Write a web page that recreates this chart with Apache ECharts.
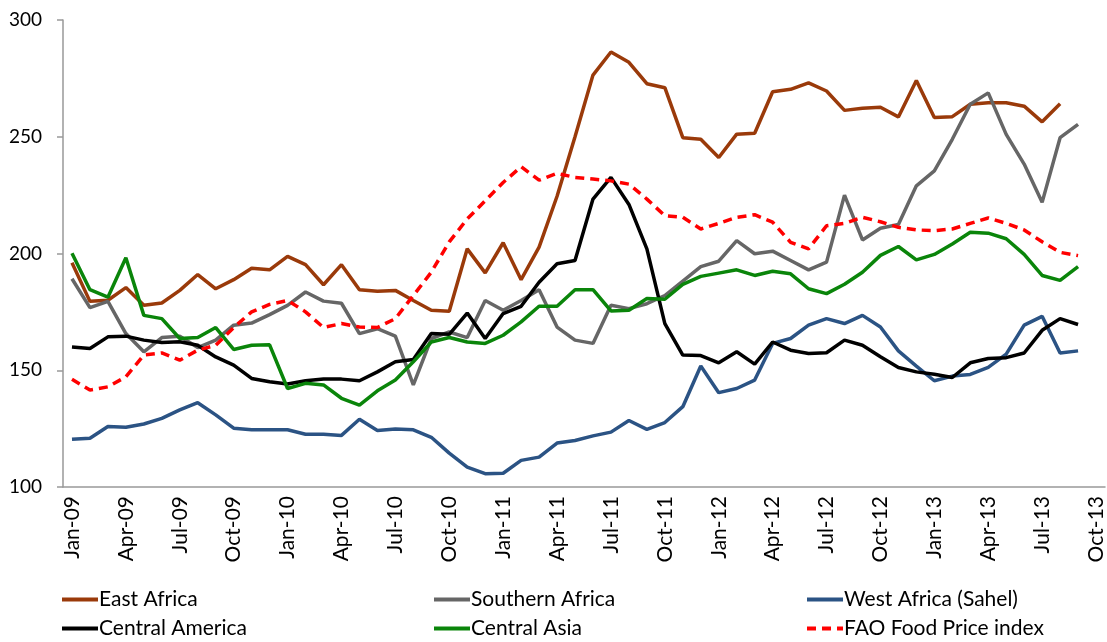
<!DOCTYPE html>
<html>
<head>
<meta charset="utf-8">
<script src="https://cdn.jsdelivr.net/npm/echarts@6/dist/echarts.min.js"></script>
<style>
  html, body { margin: 0; padding: 0; background: #fff; }
  #myChart { width: 1107px; height: 642px; }
</style>
</head>
<body>
<div id="myChart"></div>
<script>
// month labels, Jan-09 .. Oct-13
const months = [
  'Jan-09', 'Feb-09', 'Mar-09', 'Apr-09', 'May-09', 'Jun-09', 'Jul-09', 'Aug-09', 'Sep-09', 'Oct-09', 'Nov-09', 'Dec-09',
  'Jan-10', 'Feb-10', 'Mar-10', 'Apr-10', 'May-10', 'Jun-10', 'Jul-10', 'Aug-10', 'Sep-10', 'Oct-10', 'Nov-10', 'Dec-10',
  'Jan-11', 'Feb-11', 'Mar-11', 'Apr-11', 'May-11', 'Jun-11', 'Jul-11', 'Aug-11', 'Sep-11', 'Oct-11', 'Nov-11', 'Dec-11',
  'Jan-12', 'Feb-12', 'Mar-12', 'Apr-12', 'May-12', 'Jun-12', 'Jul-12', 'Aug-12', 'Sep-12', 'Oct-12', 'Nov-12', 'Dec-12',
  'Jan-13', 'Feb-13', 'Mar-13', 'Apr-13', 'May-13', 'Jun-13', 'Jul-13', 'Aug-13', 'Sep-13', 'Oct-13'
]

const eastAfrica = [
  196, 179.5, 180, 185.4, 177.8, 178.8, 184.2, 191, 184.9, 188.8, 193.7, 193,
  198.8, 195.2, 186.6, 195.2, 184.5, 183.8, 184.2, 179.9, 175.7, 175.3, 202, 191.7,
  204.6, 188.8, 202.7, 224.5, 250, 276.4, 286.3, 281.9, 272.7, 271, 249.6, 248.9,
  241.1, 251.1, 251.5, 269.3, 270.3, 273.1, 269.6, 261.3, 262.2, 262.6, 258.5, 274.1,
  258.2, 258.6, 263.9, 264.6, 264.6, 263.1, 256.4, 264.1, null, null
]
const southernAfrica = [
  189.2, 176.8, 179.5, 165.7, 157.9, 164, 164.6, 159.7, 162.9, 169.3, 170.2, 173.8,
  177.8, 183.5, 179.6, 178.7, 165.7, 167.8, 164.6, 143.7, 163.6, 166.4, 164, 179.9,
  175.7, 179.9, 184.5, 168.5, 162.9, 161.5, 177.8, 176.4, 178.5, 182, 188.2, 194.4,
  196.7, 205.5, 199.9, 201, 197, 193, 196.3, 225, 205.8, 210.8, 212.4, 229,
  235.4, 248.9, 263.9, 268.8, 251, 238.3, 221.9, 249.6, 255.3, null
]
const westAfrica = [
  120.5, 120.9, 125.9, 125.6, 127, 129.4, 133, 136.1, 130.9, 125.2, 124.5, 124.5,
  124.5, 122.6, 122.6, 122.1, 129, 124.2, 124.8, 124.5, 121.3, 114.5, 108.5, 105.7,
  105.9, 111.4, 112.8, 118.8, 119.9, 121.9, 123.5, 128.5, 124.7, 127.6, 134.4, 151.8,
  140.4, 142.2, 145.8, 161.5, 163.6, 169.3, 172.1, 170, 173.5, 168.5, 158.3, 151.8,
  145.5, 147.5, 148.2, 151.2, 156.9, 169.3, 173.1, 157.4, 158.3, null
]
const centralAmerica = [
  160, 159.3, 164.3, 164.6, 162.9, 161.9, 162.2, 160.7, 155.7, 152.2, 146.5, 145.1,
  144.1, 145.5, 146.3, 146.2, 145.5, 149.3, 153.6, 154.6, 165.7, 165.4, 174.5, 163.6,
  174.3, 177.4, 187.7, 195.6, 197, 223.3, 232.6, 221, 202, 170, 156.5, 156.3,
  153.2, 157.9, 152.6, 162.1, 158.6, 157.2, 157.5, 162.9, 160.7, 155.8, 151.2, 149.3,
  148.3, 146.9, 153.2, 155, 155.4, 157.4, 167.1, 172.1, 169.6, null
]
const centralAsia = [
  200.1, 184.5, 181.3, 198.2, 173.5, 172.1, 163.6, 164, 168.3, 158.9, 160.7, 160.9,
  142.2, 144.4, 143.7, 138, 135.1, 141.2, 145.8, 153.6, 162.1, 164, 162.1, 161.5,
  165, 170.7, 177.4, 177.4, 184.5, 184.5, 175.4, 175.7, 180.7, 180.4, 186.8, 190.2,
  191.6, 193, 190.6, 192.4, 191.3, 184.9, 182.8, 186.8, 192, 199.2, 203, 197.3,
  199.6, 204.1, 209.1, 208.7, 206.3, 199.6, 190.6, 188.5, 194.4, null
]
const faoIndex = [
  146.1, 141.5, 142.9, 147.2, 156.5, 157.4, 154.3, 158.6, 160.7, 168.3, 175, 178.2,
  179.9, 175, 168.3, 170, 168.5, 168.3, 172.1, 182, 192, 205, 214.8, 222.6,
  230.4, 237.2, 231.4, 234.3, 232.6, 231.9, 231.1, 229.7, 223.3, 216.2, 215.5, 210.5,
  212.9, 215.5, 216.6, 213.4, 204.8, 202, 211.9, 212.9, 215.5, 213.6, 211.2, 210.1,
  209.8, 210.5, 212.9, 215.2, 212.9, 210.1, 205, 200.5, 199.1, null
]

const yTicks = [100, 150, 200, 250, 300]

const font = 'Lato, "Open Sans", sans-serif'

function line (name, data, color, dashed) {
  return {
    name: name,
    type: 'line',
    data: data,
    showSymbol: false,
    symbol: 'none',
    connectNulls: false,
    lineStyle: { color: color, width: 3.5, type: dashed ? [9, 6] : 'solid' },
    itemStyle: { color: color }
  }
}

function legendCol (left, names) {
  return {
    left: left,
    top: 589,
    padding: 0,
    orient: 'vertical',
    itemWidth: 36,
    itemHeight: 10,
    itemGap: 8,
    itemStyle: { opacity: 0 },
    lineStyle: { width: 4 },
    data: names,
    textStyle: { fontFamily: font, fontSize: 21, color: '#000', padding: [0, 0, 0, -4] }
  }
}

let myChart = echarts.init(document.getElementById('myChart'))
myChart.setOption({
  animation: false,
  grid: {
    left: 63,
    right: 2,
    top: 20,
    bottom: 155,
    containLabel: false,
    outerBoundsMode: 'none'
  },
  legend: [
    legendCol(60, ['East Africa', 'Central America']),
    legendCol(432, ['Southern Africa', 'Central Asia']),
    legendCol(805, ['West Africa (Sahel)', 'FAO Food Price index'])
  ],
  xAxis: {
    type: 'category',
    data: months,
    boundaryGap: true,
    axisLine: { lineStyle: { color: '#999', width: 1.5 } },
    axisTick: { interval: 2, length: 6, lineStyle: { color: '#999', width: 1.5 } },
    axisLabel: {
      interval: 2,
      rotate: 90,
      margin: 9,
      fontFamily: font,
      fontSize: 21,
      color: '#000'
    },
    splitLine: { show: false }
  },
  yAxis: {
    type: 'value',
    min: yTicks[0],
    max: yTicks[yTicks.length - 1],
    interval: 50,
    axisLine: { show: true, lineStyle: { color: '#999', width: 1.5 } },
    axisTick: { show: true, length: 6, lineStyle: { color: '#999', width: 1.5 } },
    axisLabel: { fontFamily: font, fontSize: 19, color: '#000', margin: 21 },
    splitLine: { show: false }
  },
  series: [
    line('East Africa', eastAfrica, '#9a3a0a'),
    line('Southern Africa', southernAfrica, '#666666'),
    line('West Africa (Sahel)', westAfrica, '#2b5384'),
    line('Central America', centralAmerica, '#000000'),
    line('Central Asia', centralAsia, '#0a850a'),
    line('FAO Food Price index', faoIndex, '#ff0000', true)
  ]
})
</script>
</body>
</html>
